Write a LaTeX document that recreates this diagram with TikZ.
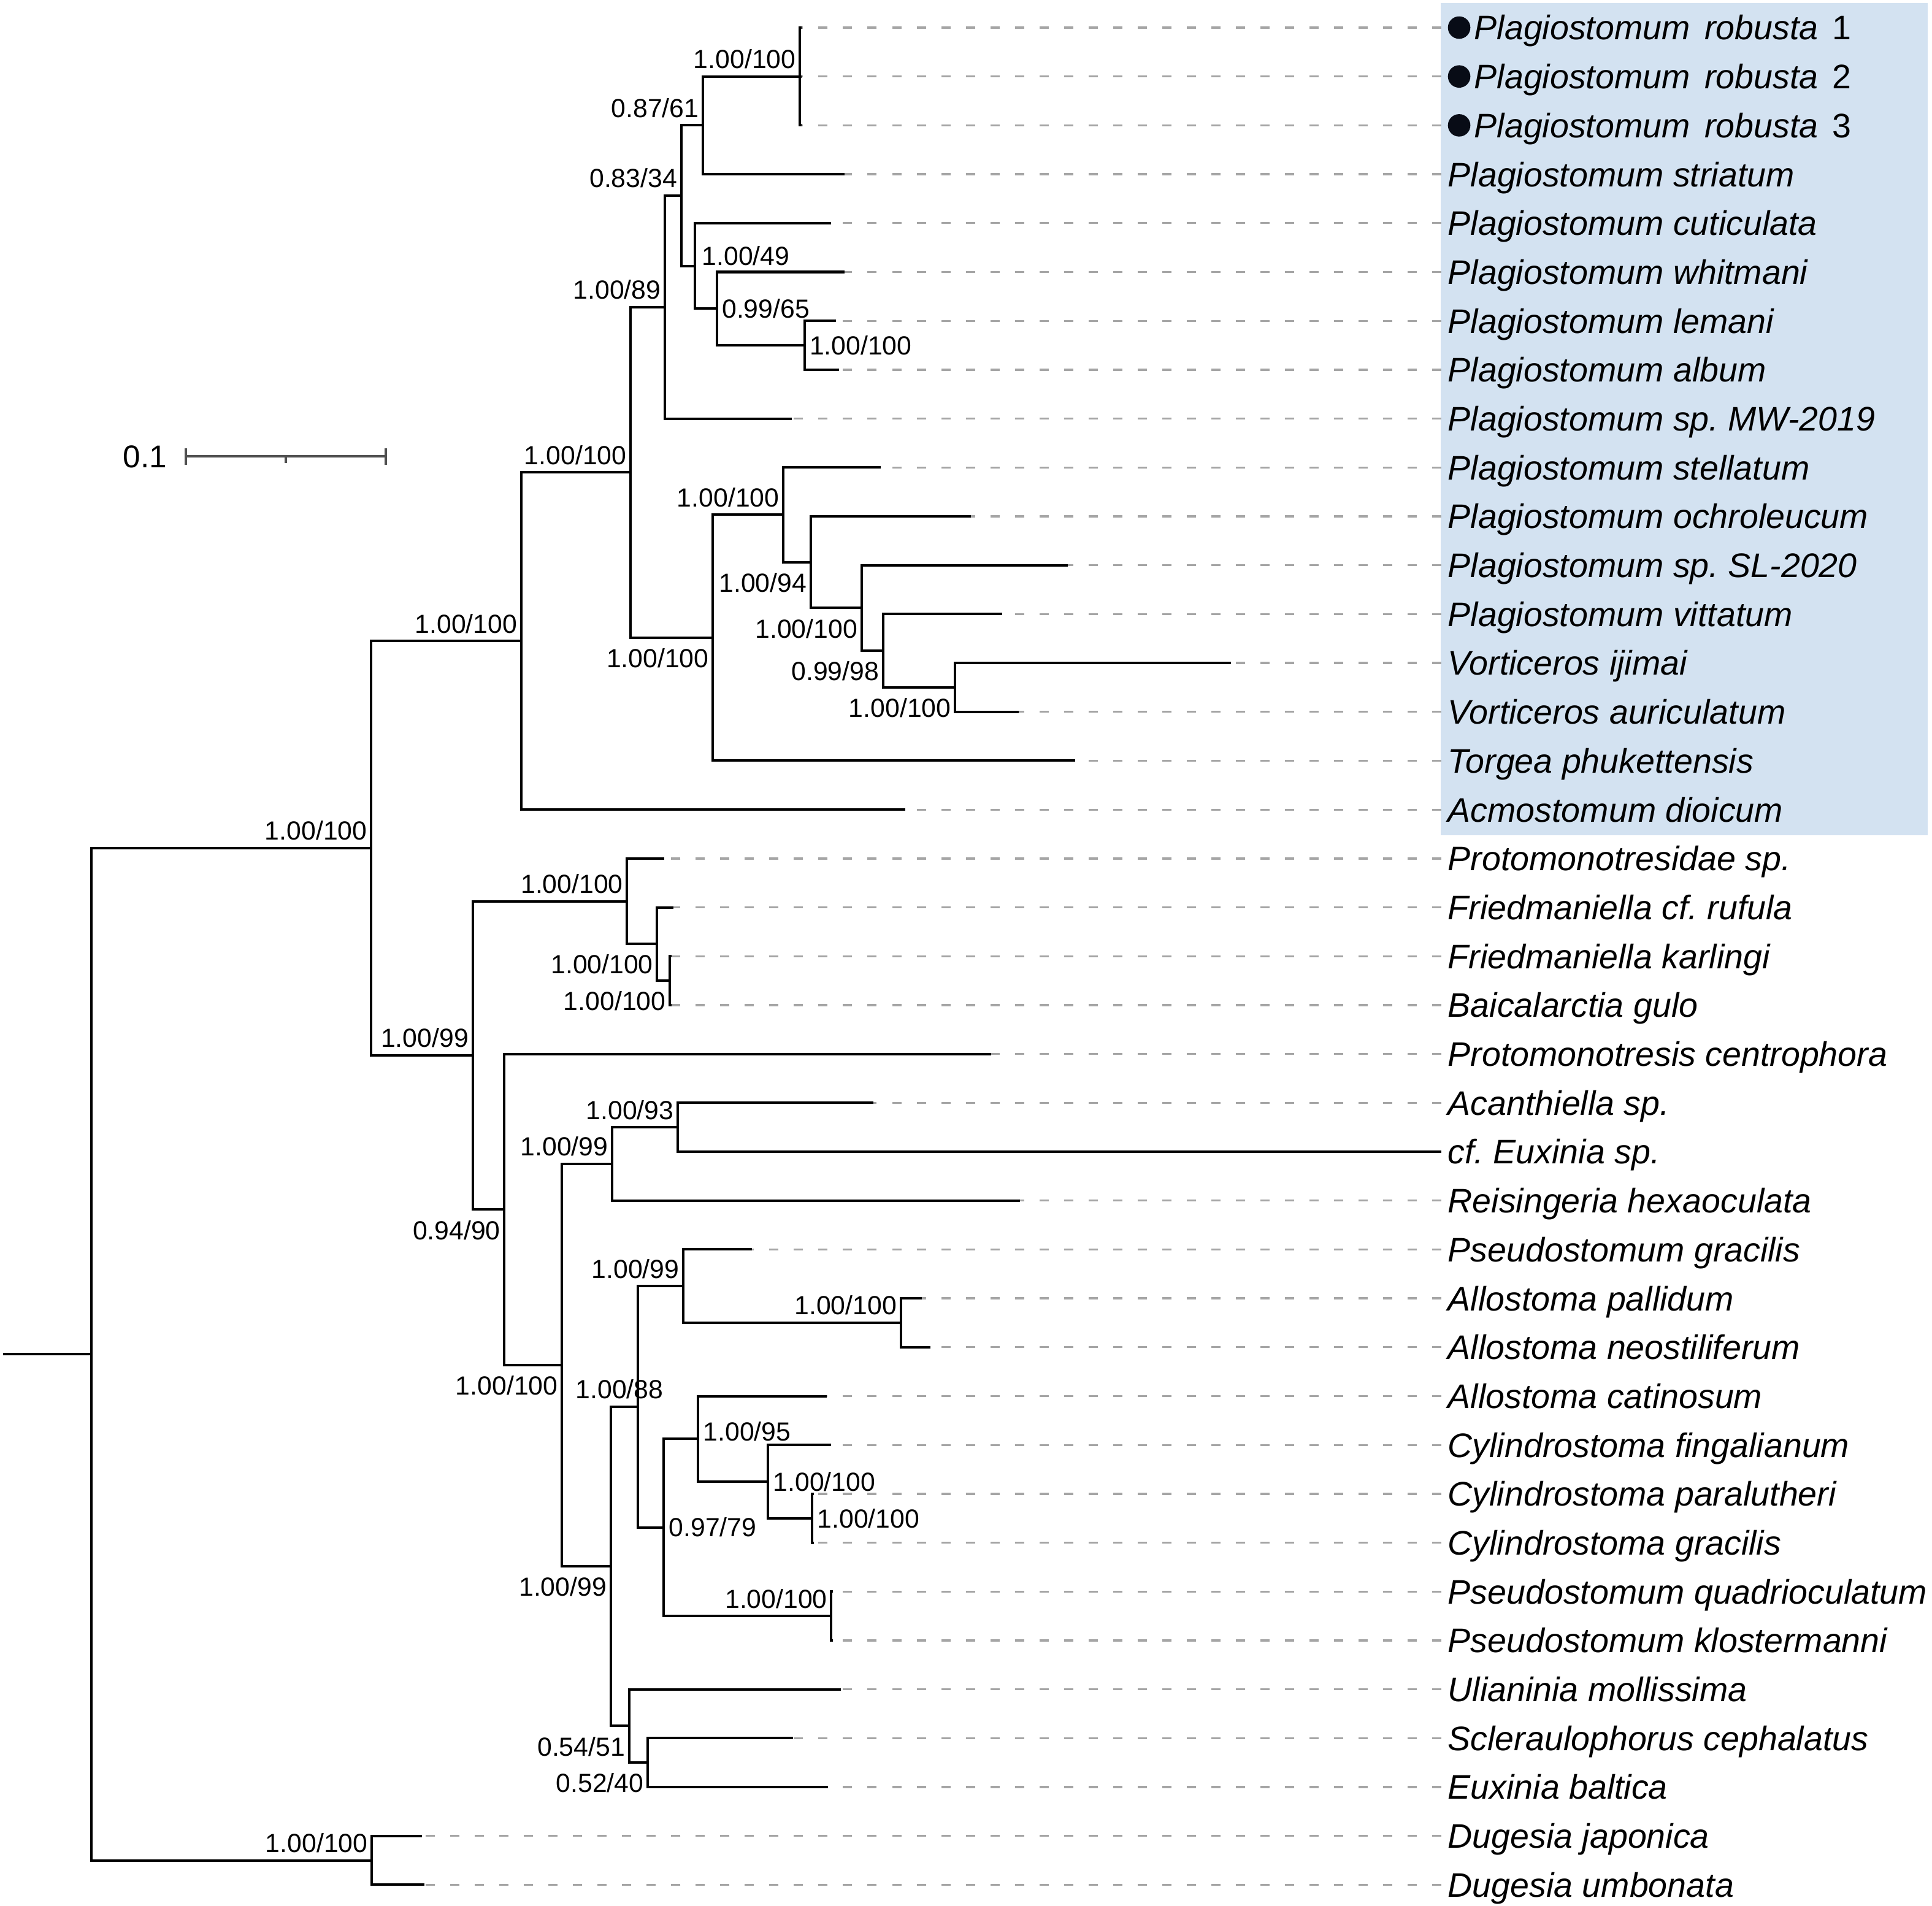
\documentclass[tikz,border=0pt]{standalone}
\usepackage{fontspec}
\setmainfont{Liberation Sans}
\usepackage{tikz}
\usepackage{xcolor}
\usetikzlibrary{positioning}
\frenchspacing
\definecolor{cladeblue}{RGB}{211,226,241}
\definecolor{guidegray}{RGB}{165,165,165}
\definecolor{bargray}{RGB}{80,80,80}
\definecolor{dotblack}{RGB}{8,12,22}
\tikzset{
Branch/.style={
 draw=black, 
 line width=0.04cm
 },
Guide/.style={
 draw=guidegray, 
 line width=0.033cm, 
 dash pattern=on 0.15cm off 0.25cm
 },
Taxon/.style={
 anchor=west, 
 inner xsep=0.1cm, 
 inner ysep=0pt, 
 text height=0.45cm, 
 text depth=0.052cm, 
 font=\fontsize{15.8pt}{18pt}\selectfont\itshape
 },
Marked/.style={
 Taxon, 
 inner xsep=0.53cm
 },
Support/.style={
 inner sep=0pt, 
 font=\fontsize{12.15pt}{14pt}\selectfont
 },
SupAL/.style={Support, above left=0.12cm and 0.06cm},
SupBL/.style={Support, below left=0.17cm and 0.06cm},
SupR/.style={Support, right=0.08cm},
ScaleBar/.style={
 draw=bargray, 
 line width=0.04cm
 },
ScaleText/.style={
 inner sep=0pt, 
 font=\fontsize{14.6pt}{17pt}\selectfont
 }
}
\newcommand{\rob}[1]{Plagiostomum\hspace{0.42em}robusta\hspace{0.42em}\upshape #1}
\begin{document}
\begin{tikzpicture}[x=0.01cm,y=-0.7965cm]
\useasboundingbox (0,0.435) rectangle (3150,39.431);
\fill[cladeblue] (2349,0.503) rectangle (3143,17.522);
\coordinate (t1) at (1307,1);
\coordinate (t2) at (1307,2);
\coordinate (t3) at (1307,3);
\coordinate (t4) at (1377,4);
\coordinate (t5) at (1355,5);
\coordinate (t6) at (1377,6);
\coordinate (t7) at (1362.5,7);
\coordinate (t8) at (1367.6,8);
\coordinate (t9) at (1291,9);
\coordinate (t10) at (1435.8,10);
\coordinate (t11) at (1583,11);
\coordinate (t12) at (1740.7,12);
\coordinate (t13) at (1634,13);
\coordinate (t14) at (2007,14);
\coordinate (t15) at (1661,15);
\coordinate (t16) at (1753.4,16);
\coordinate (t17) at (1476,17);
\coordinate (t18) at (1083,18);
\coordinate (t19) at (1098,19);
\coordinate (t20) at (1095,20);
\coordinate (t21) at (1095,21);
\coordinate (t22) at (1616,22);
\coordinate (t23) at (1424,23);
\coordinate (t24) at (2350,24);
\coordinate (t25) at (1663,25);
\coordinate (t26) at (1226,26);
\coordinate (t27) at (1503,27);
\coordinate (t28) at (1516.8,28);
\coordinate (t29) at (1347.7,29);
\coordinate (t30) at (1355.3,30);
\coordinate (t31) at (1327,31);
\coordinate (t32) at (1327,32);
\coordinate (t33) at (1358,33);
\coordinate (t34) at (1358,34);
\coordinate (t35) at (1370.6,35);
\coordinate (t36) at (1292.6,36);
\coordinate (t37) at (1350,37);
\coordinate (t38) at (687.5,38);
\coordinate (t39) at (692,39);
\coordinate (P) at (1304,2);
\coordinate (B2) at (1146,3);
\coordinate (B5) at (1311.5,7.5);
\coordinate (B4) at (1168.6,6.75);
\coordinate (B3) at (1133,5.875);
\coordinate (B1) at (1110.6,4.4375);
\coordinate (B) at (1084,6.71875);
\coordinate (C5) at (1557,14.5);
\coordinate (C4) at (1439.7,13.75);
\coordinate (C3) at (1404.6,12.875);
\coordinate (C2) at (1321.7,11.9375);
\coordinate (C1) at (1277,10.96875);
\coordinate (C) at (1162.2,13.484375);
\coordinate (A) at (1028,10.1015625);
\coordinate (U) at (849.7,13.55078);
\coordinate (L1b) at (1092,20.5);
\coordinate (L1a) at (1071.4,19.75);
\coordinate (L1) at (1022.3,18.875);
\coordinate (L4a) at (1105,23.5);
\coordinate (L4) at (998,24.25);
\coordinate (L7a) at (1468.6,27.5);
\coordinate (L7) at (1114,26.75);
\coordinate (L8c) at (1324,31.5);
\coordinate (L8b) at (1252,30.75);
\coordinate (L8a) at (1138,29.875);
\coordinate (L8d) at (1355.3,33.5);
\coordinate (L8) at (1082,31.6875);
\coordinate (L6) at (1040,29.21875);
\coordinate (L9a) at (1056,36.5);
\coordinate (L9) at (1025.5,35.75);
\coordinate (L5) at (995.6,32.48438);
\coordinate (L3) at (916,28.36719);
\coordinate (L2) at (822.3,25.18359);
\coordinate (L) at (770.5,22.0293);
\coordinate (I) at (605,17.79004);
\coordinate (D) at (606,38.5);
\coordinate (R) at (149,28.14502);
\coordinate (R0) at (5,28.14502);
\draw[Branch] (R0) -- (R);
\draw[Branch] (R) |- (I) (R) |- (D);
\draw[Branch] (D) |- (t38) (D) |- (t39);
\draw[Branch] (I) |- (U) (I) |- (L);
\draw[Branch] (U) |- (A) (U) |- (t17);
\draw[Branch] (A) |- (B) (A) |- (C);
\draw[Branch] (B) |- (B1) (B) |- (t9);
\draw[Branch] (B1) |- (B2) (B1) |- (B3);
\draw[Branch] (B2) |- (P) (B2) |- (t4);
\draw[Branch] (P) |- (t1) (P) |- (t2) (P) |- (t3);
\draw[Branch] (B3) |- (t5) (B3) |- (B4);
\draw[Branch] (B4) |- (t6) (B4) |- (B5);
\draw[Branch] (B5) |- (t7) (B5) |- (t8);
\draw[Branch] (C) |- (C1) (C) |- (t16);
\draw[Branch] (C1) |- (t10) (C1) |- (C2);
\draw[Branch] (C2) |- (t11) (C2) |- (C3);
\draw[Branch] (C3) |- (t12) (C3) |- (C4);
\draw[Branch] (C4) |- (t13) (C4) |- (C5);
\draw[Branch] (C5) |- (t14) (C5) |- (t15);
\draw[Branch] (L) |- (L1) (L) |- (L2);
\draw[Branch] (L1) |- (t18) (L1) |- (L1a);
\draw[Branch] (L1a) |- (t19) (L1a) |- (L1b);
\draw[Branch] (L1b) |- (t20) (L1b) |- (t21);
\draw[Branch] (L2) |- (t22) (L2) |- (L3);
\draw[Branch] (L3) |- (L4) (L3) |- (L5);
\draw[Branch] (L4) |- (L4a) (L4) |- (t25);
\draw[Branch] (L4a) |- (t23) (L4a) |- (t24);
\draw[Branch] (L5) |- (L6) (L5) |- (L9);
\draw[Branch] (L6) |- (L7) (L6) |- (L8);
\draw[Branch] (L7) |- (t26) (L7) |- (L7a);
\draw[Branch] (L7a) |- (t27) (L7a) |- (t28);
\draw[Branch] (L8) |- (L8a) (L8) |- (L8d);
\draw[Branch] (L8a) |- (t29) (L8a) |- (L8b);
\draw[Branch] (L8b) |- (t30) (L8b) |- (L8c);
\draw[Branch] (L8c) |- (t31) (L8c) |- (t32);
\draw[Branch] (L8d) |- (t33) (L8d) |- (t34);
\draw[Branch] (L9) |- (t35) (L9) |- (L9a);
\draw[Branch] (L9a) |- (t36) (L9a) |- (t37);
\node[Marked] (n1) at (2350,1) {\rob{1}};
\node[Marked] (n2) at (2350,2) {\rob{2}};
\node[Marked] (n3) at (2350,3) {\rob{3}};
\node[Taxon] (n4) at (2350,4) {Plagiostomum striatum};
\node[Taxon] (n5) at (2350,5) {Plagiostomum cuticulata};
\node[Taxon] (n6) at (2350,6) {Plagiostomum whitmani};
\node[Taxon] (n7) at (2350,7) {Plagiostomum lemani};
\node[Taxon] (n8) at (2350,8) {Plagiostomum album};
\node[Taxon] (n9) at (2350,9) {Plagiostomum sp. MW-2019};
\node[Taxon] (n10) at (2350,10) {Plagiostomum stellatum};
\node[Taxon] (n11) at (2350,11) {Plagiostomum ochroleucum};
\node[Taxon] (n12) at (2350,12) {Plagiostomum sp. SL-2020};
\node[Taxon] (n13) at (2350,13) {Plagiostomum vittatum};
\node[Taxon] (n14) at (2350,14) {Vorticeros ijimai};
\node[Taxon] (n15) at (2350,15) {Vorticeros auriculatum};
\node[Taxon] (n16) at (2350,16) {Torgea phukettensis};
\node[Taxon] (n17) at (2350,17) {Acmostomum dioicum};
\node[Taxon] (n18) at (2350,18) {Protomonotresidae sp.};
\node[Taxon] (n19) at (2350,19) {Friedmaniella cf. rufula};
\node[Taxon] (n20) at (2350,20) {Friedmaniella karlingi};
\node[Taxon] (n21) at (2350,21) {Baicalarctia gulo};
\node[Taxon] (n22) at (2350,22) {Protomonotresis centrophora};
\node[Taxon] (n23) at (2350,23) {Acanthiella sp.};
\node[Taxon] (n24) at (2350,24) {cf. Euxinia sp.};
\node[Taxon] (n25) at (2350,25) {Reisingeria hexaoculata};
\node[Taxon] (n26) at (2350,26) {Pseudostomum gracilis};
\node[Taxon] (n27) at (2350,27) {Allostoma pallidum};
\node[Taxon] (n28) at (2350,28) {Allostoma neostiliferum};
\node[Taxon] (n29) at (2350,29) {Allostoma catinosum};
\node[Taxon] (n30) at (2350,30) {Cylindrostoma fingalianum};
\node[Taxon] (n31) at (2350,31) {Cylindrostoma paralutheri};
\node[Taxon] (n32) at (2350,32) {Cylindrostoma gracilis};
\node[Taxon] (n33) at (2350,33) {Pseudostomum quadrioculatum};
\node[Taxon] (n34) at (2350,34) {Pseudostomum klostermanni};
\node[Taxon] (n35) at (2350,35) {Ulianinia mollissima};
\node[Taxon] (n36) at (2350,36) {Scleraulophorus cephalatus};
\node[Taxon] (n37) at (2350,37) {Euxinia baltica};
\node[Taxon] (n38) at (2350,38) {Dugesia japonica};
\node[Taxon] (n39) at (2350,39) {Dugesia umbonata};
\fill[dotblack] ([xshift=0.29cm]n1.west) circle (0.183cm);
\fill[dotblack] ([xshift=0.29cm]n2.west) circle (0.183cm);
\fill[dotblack] ([xshift=0.29cm]n3.west) circle (0.183cm);
\draw[Guide] (n1) -- (t1) (n2) -- (t2) (n3) -- (t3) (n4) -- (t4) (n5) -- (t5);
\draw[Guide] (n6) -- (t6) (n7) -- (t7) (n8) -- (t8) (n9) -- (t9) (n10) -- (t10);
\draw[Guide] (n11) -- (t11) (n12) -- (t12) (n13) -- (t13) (n14) -- (t14) (n15) -- (t15);
\draw[Guide] (n16) -- (t16) (n17) -- (t17) (n18) -- (t18) (n19) -- (t19) (n20) -- (t20);
\draw[Guide] (n21) -- (t21) (n22) -- (t22) (n23) -- (t23) (n25) -- (t25) (n26) -- (t26);
\draw[Guide] (n27) -- (t27) (n28) -- (t28) (n29) -- (t29) (n30) -- (t30) (n31) -- (t31);
\draw[Guide] (n32) -- (t32) (n33) -- (t33) (n34) -- (t34) (n35) -- (t35) (n36) -- (t36);
\draw[Guide] (n37) -- (t37) (n38) -- (t38) (n39) -- (t39);
\node[SupAL] (sP) at (P) {1.00/100};
\node[SupAL] (sB2) at (B2) {0.87/61};
\node[SupAL] (sB1) at (B1) {0.83/34};
\node[SupAL] (sB) at (B) {1.00/89};
\node[SupR, xshift=0.03cm, yshift=0.16cm] (sB3) at (B3) {1.00/49};
\node[SupR] (sB4) at (B4) {0.99/65};
\node[SupR] (sB5) at (B5) {1.00/100};
\node[SupAL] (sA) at (A) {1.00/100};
\node[SupAL] (sU) at (U) {1.00/100};
\node[SupAL] (sI) at (I) {1.00/100};
\node[SupBL] (sC) at (C) {1.00/100};
\node[SupAL] (sC1) at (C1) {1.00/100};
\node[SupBL] (sC2) at (C2) {1.00/94};
\node[SupBL] (sC3) at (C3) {1.00/100};
\node[SupBL] (sC4) at (C4) {0.99/98};
\node[SupBL] (sC5) at (C5) {1.00/100};
\node[SupAL] (sL) at (L) {1.00/99};
\node[SupAL] (sL1) at (L1) {1.00/100};
\node[SupBL] (sL1a) at (L1a) {1.00/100};
\node[SupBL] (sL1b) at (L1b) {1.00/100};
\node[SupBL] (sL2) at (L2) {0.94/90};
\node[SupBL] (sL3) at (L3) {1.00/100};
\node[SupAL] (sL4) at (L4) {1.00/99};
\node[SupAL] (sL4a) at (L4a) {1.00/93};
\node[SupBL] (sL5) at (L5) {1.00/99};
\node[SupAL, xshift=0.48cm] (sL6) at (L6) {1.00/88};
\node[SupAL] (sL7) at (L7) {1.00/99};
\node[SupAL] (sL7a) at (L7a) {1.00/100};
\node[SupR] (sL8) at (L8) {0.97/79};
\node[SupR, yshift=0.12cm] (sL8a) at (L8a) {1.00/95};
\node[SupR] (sL8b) at (L8b) {1.00/100};
\node[SupR] (sL8c) at (L8c) {1.00/100};
\node[SupAL] (sL8d) at (L8d) {1.00/100};
\node[SupBL] (sL9) at (L9) {0.54/51};
\node[SupBL] (sL9a) at (L9a) {0.52/40};
\node[SupAL] (sD) at (D) {1.00/100};
\coordinate (sbL) at (303,9.776);
\coordinate (sbM) at (466,9.776);
\coordinate (sbR) at (629,9.776);
\draw[ScaleBar] (sbL) -- (sbR);
\draw[ScaleBar] ([yshift=0.135cm]sbL) -- ([yshift=-0.135cm]sbL);
\draw[ScaleBar] ([yshift=0.135cm]sbR) -- ([yshift=-0.135cm]sbR);
\draw[ScaleBar] (sbM) -- ([yshift=-0.11cm]sbM);
\node[ScaleText, left=0.3cm] (sbT) at (sbL) {0.1};
\end{tikzpicture}
\end{document}
